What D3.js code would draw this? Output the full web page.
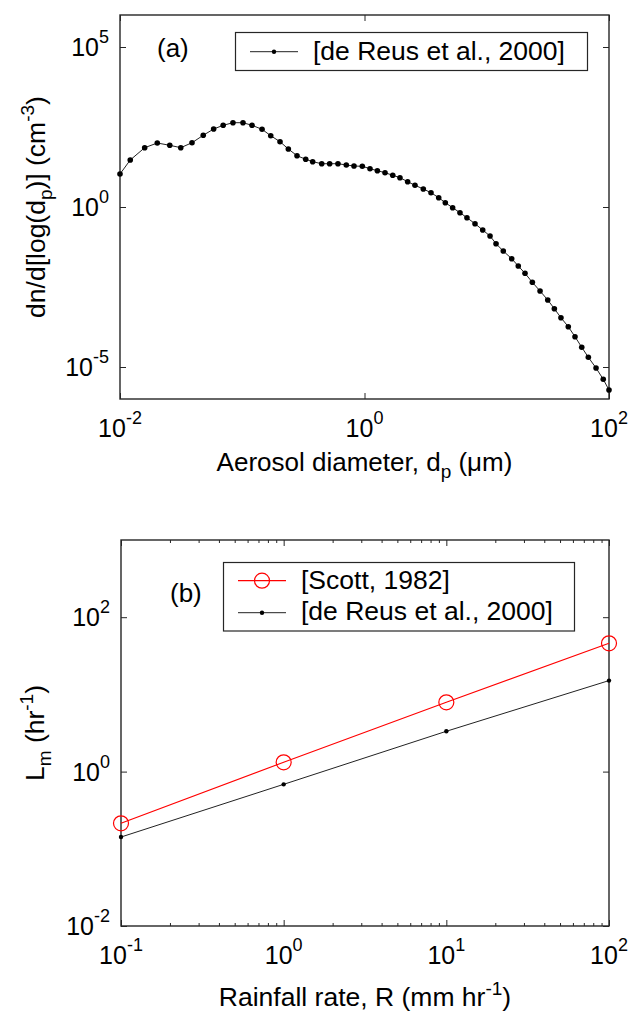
<!DOCTYPE html>
<html><head><meta charset="utf-8">
<script src="https://cdn.jsdelivr.net/npm/d3@7"></script>
<style>
body{margin:0;background:#fff}
svg{display:block}
text{font-family:Arial,"Liberation Sans",Helvetica,sans-serif;fill:#000}
</style>
</head><body>
<svg id="chart" width="631" height="1013"></svg>
<script>
// ---- Panel (a): aerosol size distribution [de Reus et al., 2000]
const diameters = [0.0100,0.01213,0.01592,0.02018,0.02553,0.03141,0.03882,0.04797,0.05834,0.06982,
  0.08395,0.1014,0.1202,0.1452,0.1710,0.2037,0.2382,0.2805,0.3304,0.3767,
  0.4467,0.5188,0.6067,0.7096,0.8204,0.9594,1.109,1.274,1.472,1.702,
  1.950,2.254,2.588,3.027,3.499,4.046,4.581,5.260,6.039,6.887,
  8.017,9.268,10.64,11.91,13.65,16.00,18.11,20.56,23.60,27.29,
  31.55,35.73,40.46,46.45,52.72,59.84,67.76,78.34,89.74,100];
const concentrations = [10.74,29.44,71.29,100,84.72,71.29,102.1,174.2,273.8,357.3,
  430.5,430.5,357.3,267.9,169.0,109.9,64.94,40.09,30.97,26.06,
  22.54,22.54,22.54,20.54,19.10,18.71,15.74,13.61,11.80,9.795,
  8.241,6.180,4.764,3.652,2.799,1.954,1.361,0.9506,0.6637,0.4634,
  0.3006,0.1910,0.1242,0.07129,0.04217,0.02421,0.01432,0.008472,0.004436,0.002371,
  0.001242,6.637e-4,3.475e-4,1.816e-4,8.851e-5,4.130e-5,2.009e-5,9.31e-6,4.13e-6,1.91e-6];
const xTicksA = [1e-2, 1, 1e2];
const xTickExpA = ["-2", "0", "2"];
const yTicksA = [1e-5, 1, 1e5];
const yTickExpA = ["-5", "0", "5"];

// ---- Panel (b): scavenging coefficient vs rainfall rate
const rainRates = [0.1, 1, 10, 100];
const scottLm = [0.214, 1.32, 7.9, 45.9];
const deReusLm = [0.142, 0.684, 3.33, 15.1];
const xTicksB = [0.1, 1, 10, 100];
const xTickExpB = ["-1", "0", "1", "2"];
const yTicksB = [1e-2, 1, 1e2];
const yTickExpB = ["-2", "0", "2"];
const legendB = ["[Scott, 1982]", "[de Reus et al., 2000]"];
const legendA = ["[de Reus et al., 2000]"];

const svg = d3.select("#chart");
const AX = "#262626";

function expLabel(sel, exp) {
  sel.append("tspan").text("10");
  sel.append("tspan").attr("dy", -13).attr("font-size", 18).text(exp);
}

function drawAxes(g, x, y, xt, xe, yt, ye, minorX) {
  const [x0, x1] = x.range();
  const [y0, y1] = y.range(); // y0 bottom, y1 top
  const mk = (axis, tr) => {
    const a = g.append("g").attr("transform", tr).call(axis);
    a.select(".domain").remove();
    a.selectAll("line").attr("stroke", AX).attr("stroke-width", 1);
    a.selectAll("text").remove();
  };
  mk(d3.axisBottom(x).tickValues(xt).tickSize(-6), `translate(0,${y0})`);
  mk(d3.axisTop(x).tickValues(xt).tickSize(-6), `translate(0,${y1})`);
  mk(d3.axisLeft(y).tickValues(yt).tickSize(-6), `translate(${x0},0)`);
  mk(d3.axisRight(y).tickValues(yt).tickSize(-6), `translate(${x1},0)`);
  if (minorX) {
    mk(d3.axisBottom(x).tickValues(minorX).tickSize(-3), `translate(0,${y0})`);
    mk(d3.axisTop(x).tickValues(minorX).tickSize(-3), `translate(0,${y1})`);
  }
  g.append("rect").attr("x", x0).attr("y", y1).attr("width", x1 - x0).attr("height", y0 - y1)
    .attr("fill", "none").attr("stroke", AX).attr("stroke-width", 1.4);
  xt.forEach((v, i) => {
    g.append("text").attr("x", x(v)).attr("y", y0 + 38).attr("text-anchor", "middle")
      .attr("font-size", 25).call(expLabel, xe[i]);
  });
  yt.forEach((v, i) => {
    g.append("text").attr("x", x0 - 11).attr("y", y(v) + 9).attr("text-anchor", "end")
      .attr("font-size", 25).call(expLabel, ye[i]);
  });
}

// ===== Panel (a)
{
  const x = d3.scaleLog().domain([1e-2, 1e2]).range([120, 609]);
  const y = d3.scaleLog().domain([1e-6, 1e6]).range([399, 15]);
  const g = svg.append("g");
  drawAxes(g, x, y, xTicksA, xTickExpA, yTicksA, yTickExpA, null);
  const pts = diameters.map((d, i) => [d, concentrations[i]]);
  const line = d3.line().x(d => x(d[0])).y(d => y(d[1]));
  g.append("path").datum(pts).attr("d", line).attr("fill", "none").attr("stroke", "#222").attr("stroke-width", 1);
  g.selectAll("circle.pa").data(pts).join("circle").attr("class", "pa")
    .attr("cx", d => x(d[0])).attr("cy", d => y(d[1])).attr("r", 2.8).attr("fill", "#000");

  g.append("text").attr("x", 157).attr("y", 57).attr("font-size", 26).text("(a)");
  // legend
  g.append("rect").attr("x", 235.5).attr("y", 32.5).attr("width", 352).attr("height", 38)
    .attr("fill", "#fff").attr("stroke", AX).attr("stroke-width", 1.2);
  g.append("line").attr("x1", 250).attr("x2", 298).attr("y1", 51.7).attr("y2", 51.7).attr("stroke", "#222");
  g.append("circle").attr("cx", 274).attr("cy", 51.7).attr("r", 2.2).attr("fill", "#000");
  g.append("text").attr("x", 313).attr("y", 59.5).attr("font-size", 26.5).text(legendA[0]);

  // axis labels
  const xl = g.append("text").attr("x", 364.5).attr("y", 471).attr("text-anchor", "middle").attr("font-size", 26);
  xl.append("tspan").text("Aerosol diameter, d");
  xl.append("tspan").attr("dy", 7).attr("font-size", 19).text("p");
  xl.append("tspan").attr("dy", -7).text(" (\u03bcm)");

  const yl = g.append("text").attr("transform", "translate(45,207) rotate(-90)")
    .attr("text-anchor", "middle").attr("font-size", 26.5);
  yl.append("tspan").text("dn/d[log(d");
  yl.append("tspan").attr("dy", 7).attr("font-size", 19).text("p");
  yl.append("tspan").attr("dy", -7).text(")] (cm");
  yl.append("tspan").attr("dy", -11).attr("font-size", 19).text("-3");
  yl.append("tspan").attr("dy", 11).text(")");
}

// ===== Panel (b)
{
  const x = d3.scaleLog().domain([0.1, 100]).range([121, 609]);
  const y = d3.scaleLog().domain([1e-2, 1e3]).range([926, 540]);
  const g = svg.append("g");
  const minor = [];
  [0.1, 1, 10].forEach(b => { for (let k = 2; k <= 9; k++) minor.push(b * k); });
  drawAxes(g, x, y, xTicksB, xTickExpB, yTicksB, yTickExpB, minor);

  const line = d3.line().x(d => x(d[0])).y(d => y(d[1]));
  const sPts = rainRates.map((r, i) => [r, scottLm[i]]);
  const dPts = rainRates.map((r, i) => [r, deReusLm[i]]);
  g.append("path").datum(dPts).attr("d", line).attr("fill", "none").attr("stroke", "#222").attr("stroke-width", 1);
  g.selectAll("circle.pd").data(dPts).join("circle").attr("class", "pd")
    .attr("cx", d => x(d[0])).attr("cy", d => y(d[1])).attr("r", 2.2).attr("fill", "#000");
  g.append("path").datum(sPts).attr("d", line).attr("fill", "none").attr("stroke", "#ff0000").attr("stroke-width", 1.2);
  g.selectAll("circle.ps").data(sPts).join("circle").attr("class", "ps")
    .attr("cx", d => x(d[0])).attr("cy", d => y(d[1])).attr("r", 7.5)
    .attr("fill", "none").attr("stroke", "#ff0000").attr("stroke-width", 1.2);

  g.append("text").attr("x", 170).attr("y", 602).attr("font-size", 26).text("(b)");
  // legend
  g.append("rect").attr("x", 223.5).attr("y", 562.5).attr("width", 351).attr("height", 68.5)
    .attr("fill", "#fff").attr("stroke", AX).attr("stroke-width", 1.2);
  g.append("line").attr("x1", 238).attr("x2", 286).attr("y1", 580.7).attr("y2", 580.7).attr("stroke", "#ff0000").attr("stroke-width", 1.2);
  g.append("circle").attr("cx", 262).attr("cy", 580.7).attr("r", 7.5).attr("fill", "none").attr("stroke", "#ff0000").attr("stroke-width", 1.2);
  g.append("text").attr("x", 301).attr("y", 589).attr("font-size", 26.5).text(legendB[0]);
  g.append("line").attr("x1", 238).attr("x2", 286).attr("y1", 612.7).attr("y2", 612.7).attr("stroke", "#222");
  g.append("circle").attr("cx", 262).attr("cy", 612.7).attr("r", 2.2).attr("fill", "#000");
  g.append("text").attr("x", 301).attr("y", 620).attr("font-size", 26.5).text(legendB[1]);

  const xl = g.append("text").attr("x", 365).attr("y", 1006).attr("text-anchor", "middle").attr("font-size", 26.5);
  xl.append("tspan").text("Rainfall rate, R (mm hr");
  xl.append("tspan").attr("dy", -11).attr("font-size", 19).text("-1");
  xl.append("tspan").attr("dy", 11).text(")");

  const yl = g.append("text").attr("transform", "translate(44,733) rotate(-90)")
    .attr("text-anchor", "middle").attr("font-size", 26.5);
  yl.append("tspan").text("L");
  yl.append("tspan").attr("dy", 7).attr("font-size", 19).text("m");
  yl.append("tspan").attr("dy", -7).text(" (hr");
  yl.append("tspan").attr("dy", -11).attr("font-size", 19).text("-1");
  yl.append("tspan").attr("dy", 11).text(")");
}
</script>
</body></html>
